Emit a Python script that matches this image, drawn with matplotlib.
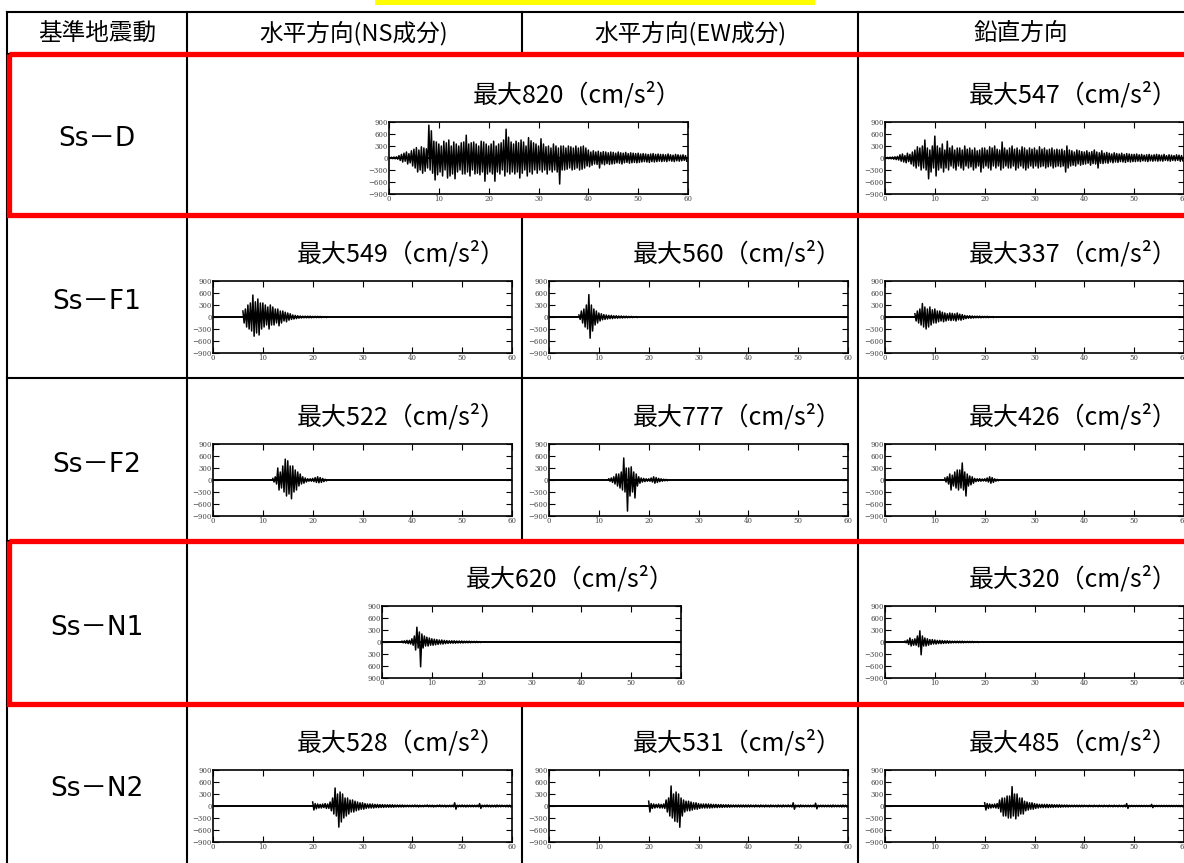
import numpy as np
import matplotlib
matplotlib.use('Agg')
import matplotlib.pyplot as plt
from matplotlib.patches import Rectangle

plt.rcParams['font.family'] = ['Noto Sans CJK JP', 'DejaVu Sans']

# envelope peaks (cm/s2) sampled every 0.5 s, upper and lower excursions
# Ss-D, NS (EW identical), from 0 s
dns_up = [15, 20, 25, 30, 60, 90, 120, 150, 110, 180,
          220, 260, 200, 280, 250, 230, 820, 680, 420, 400,
          350, 300, 420, 380, 450, 300, 400, 350, 300, 380,
          400, 570, 350, 380, 400, 350, 300, 420, 400, 350,
          300, 350, 420, 300, 350, 380, 450, 720, 520, 400,
          350, 420, 380, 450, 400, 300, 510, 430, 380, 350,
          300, 480, 350, 280, 300, 250, 350, 300, 250, 300,
          300, 250, 300, 280, 250, 300, 250, 280, 300, 250,
          200, 150, 180, 150, 170, 140, 160, 150, 130, 150,
          140, 120, 150, 130, 120, 140, 110, 130, 120, 110,
          120, 100, 110, 100, 90, 100, 110, 90, 100, 90,
          90, 80, 100, 80, 70, 90, 80, 70, 80, 60]
dns_lo = [-10, -15, -20, -30, -60, -100, -80, -150, -120, -200,
          -250, -350, -300, -380, -330, -250, -300, -380, -550, -420,
          -350, -450, -300, -500, -450, -400, -520, -350, -300, -400,
          -400, -350, -450, -300, -400, -380, -420, -350, -580, -400,
          -350, -400, -580, -350, -400, -300, -450, -350, -400, -350,
          -400, -350, -500, -380, -300, -450, -350, -400, -300, -380,
          -300, -350, -300, -400, -300, -350, -300, -350, -650, -300,
          -300, -280, -250, -300, -280, -250, -300, -280, -250, -200,
          -220, -180, -150, -160, -250, -150, -170, -140, -160, -150,
          -140, -120, -130, -150, -120, -110, -130, -120, -110, -120,
          -110, -100, -90, -100, -110, -90, -100, -90, -80, -90,
          -80, -90, -70, -80, -90, -70, -80, -70, -60, -80]

# Ss-D, vertical, from 0 s
dv_up = [10, 15, 20, 25, 30, 40, 80, 100, 60, 120,
         90, 150, 200, 280, 250, 300, 450, 250, 200, 300,
         547, 300, 250, 350, 200, 420, 250, 300, 200, 250,
         250, 200, 300, 220, 250, 200, 250, 180, 200, 250,
         250, 200, 280, 250, 300, 220, 200, 400, 250, 200,
         250, 300, 220, 250, 200, 280, 250, 200, 250, 220,
         250, 200, 280, 220, 250, 200, 220, 250, 200, 220,
         200, 220, 180, 300, 200, 180, 150, 200, 180, 160,
         150, 180, 140, 160, 200, 150, 130, 180, 120, 140,
         120, 100, 130, 110, 100, 120, 90, 110, 100, 90,
         90, 100, 80, 90, 70, 80, 90, 70, 80, 90,
         80, 70, 90, 60, 80, 70, 60, 80, 70, 60]
dv_lo = [-10, -15, -20, -30, -40, -50, -80, -100, -120, -90,
         -150, -200, -250, -200, -300, -250, -300, -520, -350, -250,
         -450, -300, -250, -350, -250, -300, -200, -250, -300, -200,
         -250, -300, -200, -250, -220, -300, -250, -200, -350, -250,
         -200, -250, -300, -200, -250, -200, -300, -250, -200, -250,
         -250, -200, -300, -250, -200, -250, -300, -250, -200, -250,
         -200, -250, -220, -200, -250, -220, -200, -250, -220, -200,
         -220, -200, -350, -250, -200, -180, -200, -150, -180, -160,
         -150, -130, -180, -140, -150, -250, -130, -140, -120, -130,
         -100, -120, -100, -110, -90, -100, -110, -90, -100, -90,
         -90, -80, -90, -70, -80, -90, -70, -80, -70, -80,
         -70, -80, -60, -70, -80, -60, -70, -60, -80, -70]

# Ss-F1, from 6 s
f1ns_up = [150, 200, 300, 350, 549, 380, 450, 350, 350, 300, 250, 300,
           250, 200, 200, 150, 150, 120, 100, 80,
           50, 40, 30, 25, 20, 20, 20, 20, 15, 15, 15, 15, 10, 10]
f1ns_lo = [-150, -250, -300, -350, -480, -400, -450, -300, -250, -200, -300, -200,
           -200, -150, -220, -150, -100, -120, -80, -60,
           -50, -40, -30, -25, -20, -20, -20, -20, -15, -15, -15, -15, -10, -10]
f1ew_up = [50, 150, 200, 300, 560, 300, 200, 150, 100, 80, 60, 50,
           40, 40, 30, 30, 25, 25, 20, 20, 15, 15, 10, 10]
f1ew_lo = [-60, -150, -250, -300, -530, -350, -200, -150, -100, -70, -60, -50,
           -40, -40, -30, -30, -25, -25, -20, -20, -15, -15, -10, -10]
f1v_up = [80, 150, 200, 337, 250, 200, 250, 180, 200, 150, 150, 120,
          100, 80, 100, 90, 80, 100, 70, 60,
          40, 30, 30, 25, 20, 20, 20, 15, 15, 15, 10, 10]
f1v_lo = [-100, -150, -200, -250, -300, -250, -200, -150, -150, -120, -100, -120,
          -100, -80, -90, -80, -100, -70, -80, -60,
          -40, -30, -30, -25, -20, -20, -20, -15, -15, -15, -10, -10]

# Ss-F2, from 12 s
f2ns_up = [40, 80, 300, 200, 350, 522, 480, 350, 350, 250, 200, 150,
           80, 50, 30, 30, 40, 60, 80, 60, 40, 20]
f2ns_lo = [-50, -100, -250, -200, -300, -400, -350, -470, -300, -250, -150, -100,
           -80, -50, -30, -30, -40, -60, -70, -60, -40, -20]
f2ew_up = [30, 50, 80, 150, 150, 200, 550, 300, 300, 330, 200, 150,
           80, 50, 40, 30, 30, 50, 80, 60, 40, 30, 20, 15]
f2ew_lo = [-30, -60, -100, -150, -200, -250, -300, -777, -400, -300, -450, -150,
           -80, -50, -40, -30, -30, -50, -80, -60, -40, -30, -20, -15]
f2v_up = [50, 80, 150, 120, 200, 250, 250, 426, 200, 150, 100, 80,
          40, 30, 30, 25, 30, 50, 80, 60, 30, 15]
f2v_lo = [-50, -100, -250, -150, -200, -250, -200, -250, -400, -150, -120, -80,
          -40, -30, -30, -25, -30, -50, -80, -60, -30, -15]

# Ss-N1, from 4 s
n1ns_up = [20, 30, 40, 40, 80, 150, 370, 250, 200, 150, 120, 100,
           80, 70, 60, 50, 50, 40,
           35, 30, 30, 30, 25, 25, 25, 20, 20, 20, 15, 15, 15, 10]
n1ns_lo = [-20, -30, -40, -50, -80, -200, -150, -620, -150, -100, -100, -80,
           -80, -70, -60, -50, -50, -40,
           -35, -30, -30, -30, -25, -25, -25, -20, -20, -20, -15, -15, -15, -10]
n1v_up = [20, 50, 100, 60, 80, 150, 280, 150, 100, 80, 60, 60,
          50, 40, 40, 35, 30, 30,
          25, 20, 20, 20, 20, 20, 15, 15, 15, 15, 10, 10]
n1v_lo = [-20, -60, -100, -80, -80, -120, -320, -100, -100, -80, -60, -50,
          -50, -40, -40, -35, -30, -30,
          -25, -20, -20, -20, -20, -20, -15, -15, -15, -15, -10, -10]

# Ss-N2, from 20 s
n2ns_up = [100, 60, 50, 40, 50, 60, 50, 100,
           200, 450, 300, 350, 300, 200, 200, 150,
           150, 120, 100, 80, 80, 60, 50, 50,
           50, 40, 40, 35, 35, 30, 30, 30, 30, 25, 25, 25, 25, 20, 20, 20,
           20, 25, 20, 20, 15, 20, 25, 20, 20, 15, 20, 25, 20, 20, 15, 20,
           20, 80, 20, 20, 25, 20, 20, 20,
           20, 20, 20, 60, 20, 20, 25, 20,
           20, 20, 25, 20, 20, 15, 20, 20]
n2ns_lo = [-100, -70, -50, -50, -40, -60, -60, -120,
           -200, -250, -528, -400, -300, -250, -200, -150,
           -150, -120, -100, -80, -80, -60, -50, -50,
           -50, -40, -40, -35, -35, -30, -30, -30, -30, -25, -25, -25, -25, -20, -20, -20,
           -20, -20, -25, -20, -20, -15, -20, -20, -25, -20, -15, -20, -20, -25, -20, -20,
           -20, -80, -20, -20, -20, -25, -20, -20,
           -20, -20, -20, -60, -20, -20, -20, -25,
           -20, -25, -20, -20, -15, -20, -20, -20]
n2ew_up = [120, 60, 50, 40, 50, 40, 50, 150,
           200, 500, 300, 350, 300, 200, 150, 120,
           120, 100, 80, 80, 60, 50, 50, 50,
           50, 45, 40, 40, 35, 35, 30, 30, 30, 25, 25, 25, 25, 25, 25, 25,
           25, 25, 20, 25, 20, 25, 20, 25, 20, 25, 20, 20, 25, 20, 25, 20,
           25, 20, 80, 20, 20, 25, 20, 20,
           20, 20, 20, 70, 20, 20, 20, 20,
           20, 20, 25, 20, 20, 20, 25, 20]
n2ew_lo = [-150, -60, -50, -40, -50, -50, -60, -150,
           -250, -300, -380, -400, -531, -250, -150, -120,
           -120, -100, -80, -80, -60, -50, -50, -50,
           -50, -45, -40, -40, -35, -35, -30, -30, -30, -25, -25, -25, -25, -25, -25, -25,
           -25, -20, -25, -20, -25, -20, -25, -20, -25, -20, -20, -25, -20, -25, -20, -20,
           -20, -25, -80, -20, -25, -20, -20, -20,
           -20, -20, -20, -70, -20, -20, -20, -20,
           -20, -25, -20, -20, -20, -25, -20, -20]
n2v_up = [80, 60, 50, 40, 50, 60, 150, 200,
          200, 250, 250, 485, 300, 300, 200, 200,
          120, 100, 80, 80, 60, 50, 40, 40,
          40, 40, 35, 35, 30, 30, 30, 25, 25, 25, 20, 20, 20, 20, 20, 20,
          20, 15, 20, 15, 20, 15, 20, 15, 20, 15, 20, 15, 20, 15, 20, 15,
          20, 60, 15, 15, 15, 15, 15, 15,
          15, 15, 15, 40, 15, 15, 15, 15,
          15, 15, 15, 15, 15, 15, 15, 15]
n2v_lo = [-100, -60, -50, -40, -50, -60, -150, -250,
          -250, -300, -300, -250, -322, -250, -200, -200,
          -120, -100, -80, -80, -60, -50, -40, -40,
          -40, -40, -35, -35, -30, -30, -30, -25, -25, -25, -20, -20, -20, -20, -20, -20,
          -15, -20, -15, -20, -15, -20, -15, -20, -15, -20, -15, -20, -15, -20, -15, -20,
          -20, -60, -15, -15, -15, -15, -15, -15,
          -15, -15, -15, -40, -15, -15, -15, -15,
          -15, -15, -15, -15, -15, -15, -15, -15]

headers = ['基準地震動', '水平方向(NS成分)', '水平方向(EW成分)', '鉛直方向']
row_names = ['Ss－D', 'Ss－F1', 'Ss－F2', 'Ss－N1', 'Ss－N2']

STEP = 0.5
W, H = 1184, 863

fig = plt.figure(figsize=(W / 100, H / 100), dpi=100)
bg = fig.add_axes([0, 0, 1, 1])
bg.set_xlim(0, W)
bg.set_ylim(H, 0)
bg.axis('off')

# table geometry in pixels
col_x = [7, 187, 522, 858]
row_y = [12, 54, 215, 378, 541, 704, 863]

bg.add_patch(Rectangle((375, 0), 440, 5, color='#ffff00', lw=0))
for y in row_y[:-1]:
    bg.plot([col_x[0], W], [y, y], color='k', lw=1.5)
for x in (col_x[0], col_x[1], col_x[3]):
    bg.plot([x, x], [row_y[0], H], color='k', lw=1.5)
# middle column line is absent in the merged rows (Ss-D, Ss-N1)
for ya, yb in [(row_y[0], row_y[1]), (row_y[2], row_y[4]), (row_y[5], H)]:
    bg.plot([col_x[2], col_x[2]], [ya, yb], color='k', lw=1.5)

for ya, yb in [(row_y[1], row_y[2]), (row_y[4], row_y[5])]:
    bg.add_patch(Rectangle((8.5, ya), W, yb - ya, fill=False,
                           edgecolor='#ff0000', lw=3.8, zorder=5))

hdr_cx = [97, 354, 690, 1021]
for cx, txt in zip(hdr_cx, headers):
    bg.text(cx, 33, txt, ha='center', va='center', fontsize=17)

for i, name in enumerate(row_names):
    cy = (row_y[i + 1] + row_y[i + 2]) / 2 + 5
    bg.text(97, cy, name, ha='center', va='center', fontsize=19,
            family=['DejaVu Sans', 'Noto Sans CJK JP'])


def wave_axes(left, top, up, lo, t0, nominus=False):
    ax = fig.add_axes([left / W, 1 - (top + 72) / H, 299 / W, 72 / H])
    t = t0 + np.arange(len(up)) * STEP
    tt = np.empty(2 * len(t))
    vv = np.empty(2 * len(t))
    tt[0::2] = t
    tt[1::2] = t + STEP / 2
    vv[0::2] = up
    vv[1::2] = lo
    ax.axhline(0, color='k', lw=1.4)
    ax.plot(tt, vv, color='k', lw=1.1)
    ax.set_xlim(0, 60)
    ax.set_ylim(-900, 900)
    ax.set_xticks(range(0, 61, 10))
    ax.set_yticks(range(-900, 901, 300))
    if nominus:
        ax.set_yticklabels(['900', '600', '300', '0', '300', '600', '900'])
    ax.tick_params(direction='in', length=4, width=0.8, top=True, right=True,
                   labelsize=5, pad=1, labelcolor='#444444')
    for lab in ax.get_xticklabels() + ax.get_yticklabels():
        lab.set_family('DejaVu Serif')
    for sp in ax.spines.values():
        sp.set_linewidth(1.2)
    peak = max(max(np.abs(up)), max(np.abs(lo)))
    bg.text(left + 299 - 6, top - 27, f'最大{peak}（cm/s²）',
            ha='right', va='center', fontsize=18)
    return ax


col_left = [213, 549, 885]
tops = [122, 281, 444, 606, 770]

# Ss-D: horizontal components share one record
wave_axes(389, tops[0], dns_up, dns_lo, 0.0)
wave_axes(col_left[2], tops[0], dv_up, dv_lo, 0.0)

wave_axes(col_left[0], tops[1], f1ns_up, f1ns_lo, 6.0)
wave_axes(col_left[1], tops[1], f1ew_up, f1ew_lo, 6.0)
wave_axes(col_left[2], tops[1], f1v_up, f1v_lo, 6.0)

wave_axes(col_left[0], tops[2], f2ns_up, f2ns_lo, 12.0)
wave_axes(col_left[1], tops[2], f2ew_up, f2ew_lo, 12.0)
wave_axes(col_left[2], tops[2], f2v_up, f2v_lo, 12.0)

wave_axes(382, tops[3], n1ns_up, n1ns_lo, 4.0, nominus=True)
wave_axes(col_left[2], tops[3], n1v_up, n1v_lo, 4.0)

wave_axes(col_left[0], tops[4], n2ns_up, n2ns_lo, 20.0)
wave_axes(col_left[1], tops[4], n2ew_up, n2ew_lo, 20.0)
wave_axes(col_left[2], tops[4], n2v_up, n2v_lo, 20.0)

fig.savefig('out.png', dpi=100, facecolor='white')
